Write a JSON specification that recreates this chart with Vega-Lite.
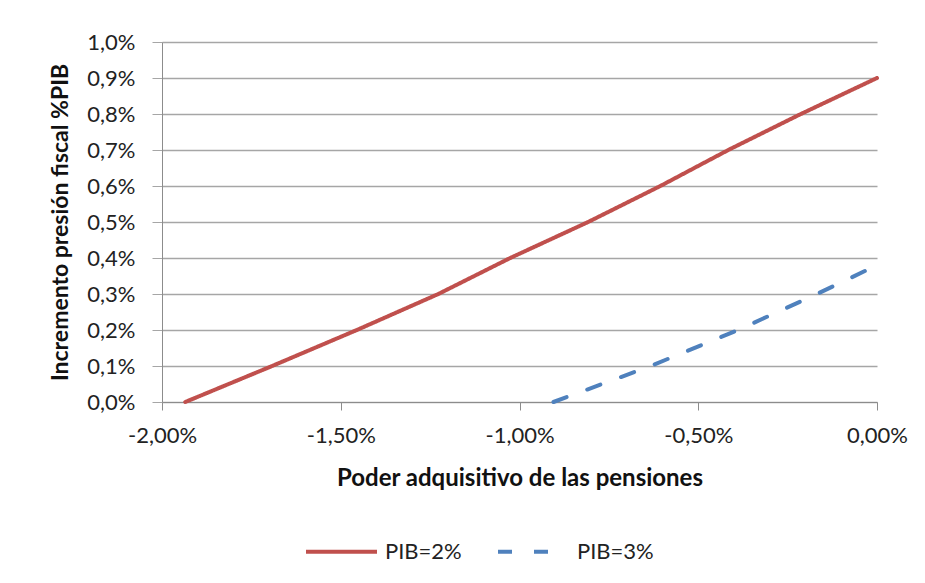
{
  "$schema": "https://vega.github.io/schema/vega-lite/v6.json",
  "width": 715,
  "height": 360,
  "autosize": {"type": "none"},
  "padding": {"left": 162, "top": 42, "right": 48, "bottom": 181},
  "background": "white",
  "config": {
    "locale": {"number": {"decimal": ",", "thousands": ".", "grouping": [3], "currency": ["", " €"], "minus": "-"}},
    "view": {"stroke": null},
    "font": "Lato"
  },
  "data": {
    "values": [
      {"serie": "PIB=2%", "poder": -0.01935, "incremento": 0.0},
      {"serie": "PIB=2%", "poder": -0.01692, "incremento": 0.001},
      {"serie": "PIB=2%", "poder": -0.01455, "incremento": 0.002},
      {"serie": "PIB=2%", "poder": -0.01227, "incremento": 0.003},
      {"serie": "PIB=2%", "poder": -0.01026, "incremento": 0.004},
      {"serie": "PIB=2%", "poder": -0.00808, "incremento": 0.005},
      {"serie": "PIB=2%", "poder": -0.00606, "incremento": 0.006},
      {"serie": "PIB=2%", "poder": -0.00416, "incremento": 0.007},
      {"serie": "PIB=2%", "poder": -0.00213, "incremento": 0.008},
      {"serie": "PIB=2%", "poder": 0.0, "incremento": 0.009},
      {"serie": "PIB=3%", "poder": -0.00905, "incremento": 0.0},
      {"serie": "PIB=3%", "poder": -0.00633, "incremento": 0.001},
      {"serie": "PIB=3%", "poder": -0.00389, "incremento": 0.002},
      {"serie": "PIB=3%", "poder": -0.00168, "incremento": 0.003},
      {"serie": "PIB=3%", "poder": 0.0, "incremento": 0.0038}
    ]
  },
  "mark": {"type": "line", "strokeWidth": 4, "strokeCap": "round"},
  "encoding": {
    "x": {
      "field": "poder",
      "type": "quantitative",
      "scale": {"domain": [-0.02, 0], "nice": false, "zero": false},
      "axis": {
        "format": ".2%",
        "values": [-0.02, -0.015, -0.01, -0.005, 0],
        "grid": false,
        "domainColor": "#8c8c8c",
        "tickColor": "#8c8c8c",
        "tickSize": 8,
        "labelPadding": 15,
        "labelFontSize": 22,
        "labelColor": "#222222",
        "labelFlush": false,
        "title": "Poder adquisitivo de las pensiones",
        "titleFontSize": 24,
        "titleFontWeight": "bold",
        "titleColor": "#111111",
        "titlePadding": 20
      }
    },
    "y": {
      "field": "incremento",
      "type": "quantitative",
      "scale": {"domain": [0, 0.01], "nice": false},
      "axis": {
        "format": ".1%",
        "values": [0, 0.001, 0.002, 0.003, 0.004, 0.005, 0.006, 0.007, 0.008, 0.009, 0.01],
        "grid": true,
        "gridColor": "#a6a6a6",
        "gridWidth": 1.5,
        "domainColor": "#8c8c8c",
        "tickColor": "#a6a6a6",
        "tickSize": 10,
        "labelPadding": 17,
        "labelFontSize": 22,
        "labelColor": "#222222",
        "labelFlush": false,
        "title": "Incremento presión fiscal %PIB",
        "titleFontSize": 23,
        "titleFontWeight": "bold",
        "titleColor": "#111111",
        "titlePadding": 14
      }
    },
    "color": {
      "field": "serie",
      "type": "nominal",
      "scale": {"domain": ["PIB=2%", "PIB=3%"], "range": ["#C0504D", "#4F81BD"]},
      "legend": {
        "title": null,
        "orient": "none",
        "direction": "horizontal",
        "legendX": 142,
        "legendY": 472,
        "symbolType": "stroke",
        "symbolSize": 5041,
        "symbolStrokeWidth": 4,
        "labelFontSize": 22,
        "labelColor": "#222222",
        "labelOffset": 6,
        "columnPadding": 28,
        "padding": 0
      }
    },
    "strokeDash": {
      "field": "serie",
      "type": "nominal",
      "scale": {"domain": ["PIB=2%", "PIB=3%"], "range": [[1, 0], [14, 22]]},
      "legend": {
        "title": null,
        "orient": "none",
        "direction": "horizontal",
        "legendX": 142,
        "legendY": 472,
        "symbolType": "stroke",
        "symbolSize": 5041,
        "symbolStrokeWidth": 4,
        "labelFontSize": 22,
        "labelColor": "#222222",
        "labelOffset": 6,
        "columnPadding": 28,
        "padding": 0
      }
    }
  }
}
